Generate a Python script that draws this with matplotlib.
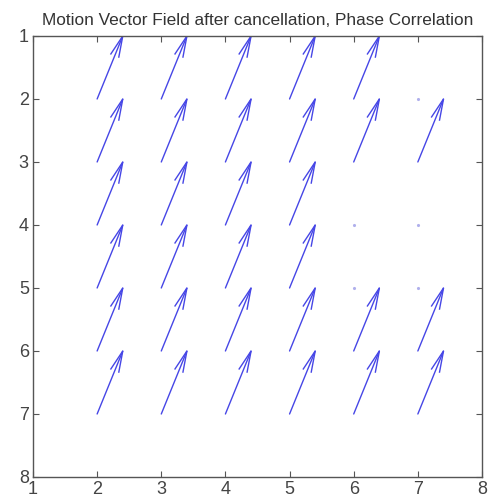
import numpy as np
import matplotlib
matplotlib.use("Agg")
import matplotlib.pyplot as plt

plt.rcParams['font.family'] = ['Liberation Sans', 'DejaVu Sans']

# Grid of vector base positions (x columns, y rows) and their displacement
x_cols = [2, 3, 4, 5, 6, 7]
y_rows = [2, 3, 4, 5, 6, 7]
# u, v per (row, col); zero vectors where cancelled
u_vals = [
    [0.4, 0.4, 0.4, 0.4, 0.4, 0.0],   # y=2
    [0.4, 0.4, 0.4, 0.4, 0.4, 0.4],   # y=3
    [0.4, 0.4, 0.4, 0.4, 0.0, 0.0],   # y=4
    [0.4, 0.4, 0.4, 0.4, 0.0, 0.0],   # y=5
    [0.4, 0.4, 0.4, 0.4, 0.4, 0.4],   # y=6
    [0.4, 0.4, 0.4, 0.4, 0.4, 0.4],   # y=7
]
v_vals = [
    [-1.0, -1.0, -1.0, -1.0, -1.0, 0.0],
    [-1.0, -1.0, -1.0, -1.0, -1.0, -1.0],
    [-1.0, -1.0, -1.0, -1.0, 0.0, 0.0],
    [-1.0, -1.0, -1.0, -1.0, 0.0, 0.0],
    [-1.0, -1.0, -1.0, -1.0, -1.0, -1.0],
    [-1.0, -1.0, -1.0, -1.0, -1.0, -1.0],
]
x_ticks = [1, 2, 3, 4, 5, 6, 7, 8]
y_ticks = [1, 2, 3, 4, 5, 6, 7, 8]
title = "Motion Vector Field after cancellation, Phase Correlation"

fig = plt.figure(figsize=(4.88, 4.99), dpi=100)
ax = fig.add_axes([0.0676, 0.0441, 0.9877 - 0.0676, 0.9279 - 0.0441])

color = '#4646e6'
alpha, beta = 0.31, 0.2
eps = 1e-9
for i, y in enumerate(y_rows):
    for j, x in enumerate(x_cols):
        u = u_vals[i][j]
        v = v_vals[i][j]
        if u == 0 and v == 0:
            ax.plot([x], [y], marker='.', markersize=2.5, color='#b0b0ec', lw=0)
            continue
        ax.plot([x, x + u], [y, y + v], color=color, lw=1.0, solid_capstyle='round')
        hu = [x + u - alpha * (u + beta * (v + eps)), x + u,
              x + u - alpha * (u - beta * (v + eps))]
        hv = [y + v - alpha * (v - beta * (u + eps)), y + v,
              y + v - alpha * (v + beta * (u + eps))]
        ax.plot(hu, hv, color=color, lw=1.0, solid_joinstyle='miter')

ax.set_xlim(1, 8)
ax.set_ylim(8, 1)
ax.set_xticks(x_ticks)
ax.set_yticks(y_ticks)
ax.set_xticklabels([str(t) for t in x_ticks])
ax.set_yticklabels([str(t) for t in y_ticks])
ax.tick_params(direction='in', length=4, width=0.8, colors='#555555',
               labelcolor='#444444', labelsize=13, top=True, right=True, pad=3)
for s in ax.spines.values():
    s.set_color('#555555')
    s.set_linewidth(1.0)
ax.set_title(title, fontsize=12.4, color='#333333', pad=8)

fig.savefig('out.png', dpi=100)
